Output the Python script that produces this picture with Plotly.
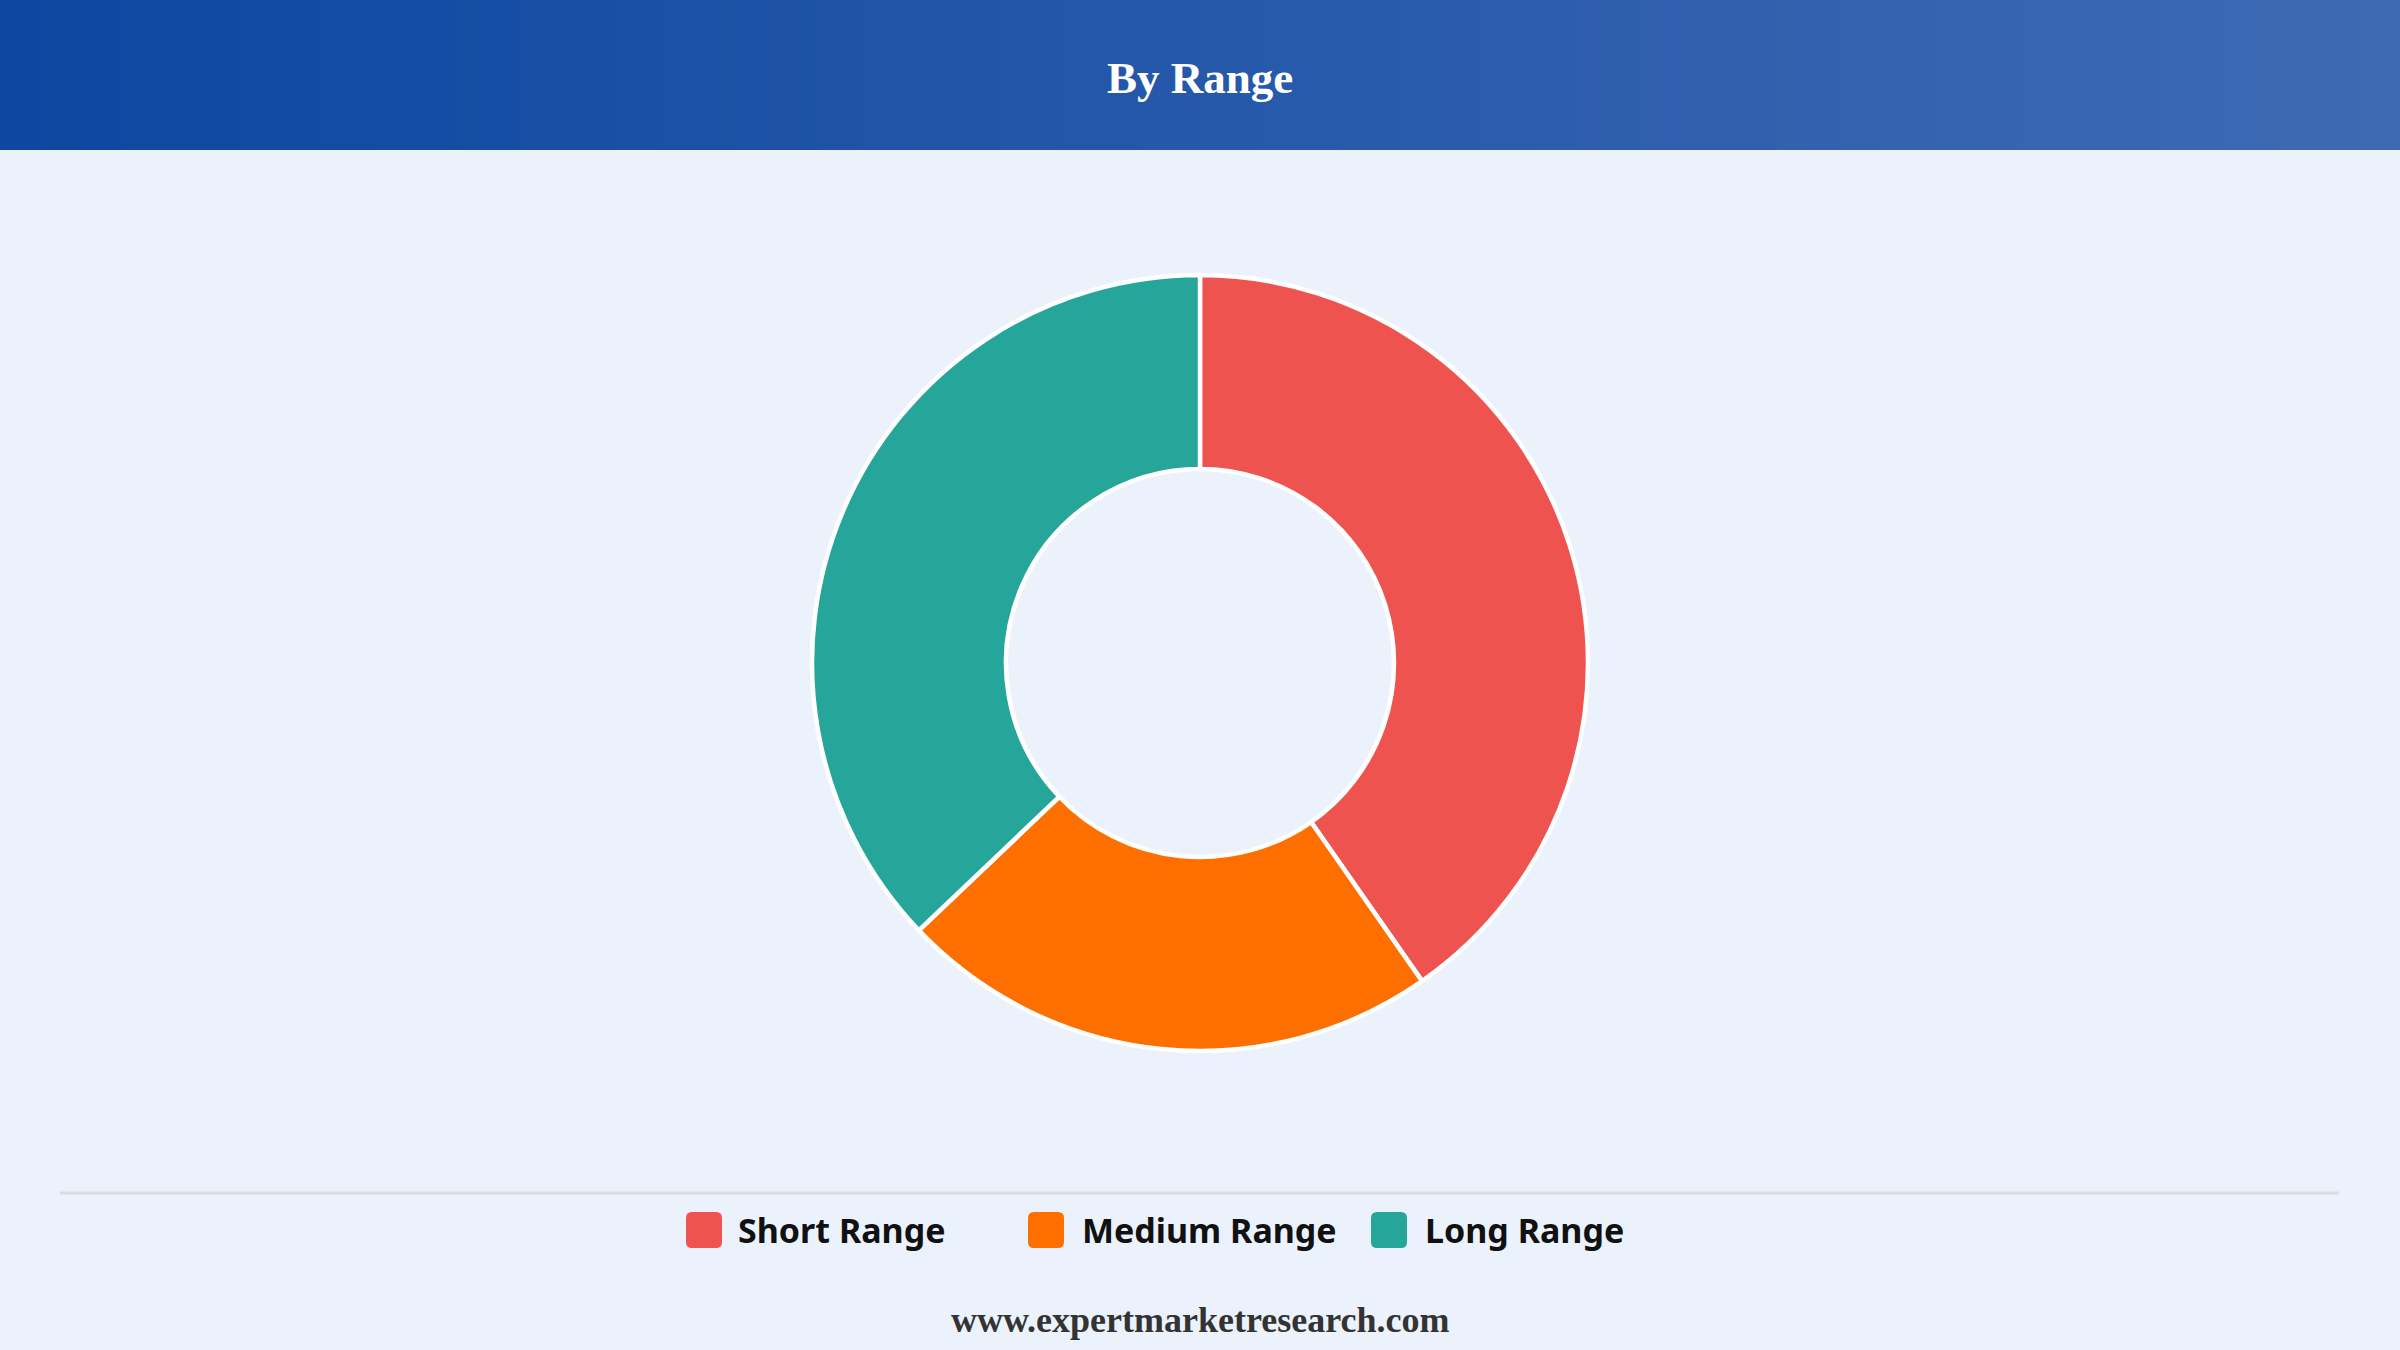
import plotly.graph_objects as go

# ---- data ----
categories = ["Short Range", "Medium Range", "Long Range"]
values = [40.3, 22.6, 37.1]
colors = ["#EF5350", "#FF6F00", "#26A69A"]
title_text = "By Range"
footer_text = "www.expertmarketresearch.com"

W, H = 2400, 1350
BG = "#EBF2FC"

fig = go.Figure()
fig.add_trace(go.Pie(
    labels=categories,
    values=values,
    hole=0.5,
    sort=False,
    direction="clockwise",
    rotation=0,
    textinfo="none",
    marker=dict(colors=colors, line=dict(color="white", width=4.5)),
    domain=dict(x=[0, 1], y=[1 - 1051 / H, 1 - 275 / H]),
    showlegend=False,
))

shapes = []
# header gradient
left = (13, 71, 161)
right = (62, 106, 179)
n = 120
for i in range(n):
    t = i / (n - 1)
    c = tuple(round(left[k] + (right[k] - left[k]) * t) for k in range(3))
    shapes.append(dict(type="rect", xref="paper", yref="paper",
                       x0=i / n, x1=(i + 1) / n + 0.001,
                       y0=1 - 150 / H, y1=1,
                       fillcolor="rgb(%d,%d,%d)" % c, line=dict(width=0), layer="below"))
# divider line
shapes.append(dict(type="line", xref="paper", yref="paper",
                   x0=60 / W, x1=2339 / W, y0=1 - 1193 / H, y1=1 - 1193 / H,
                   line=dict(color="#D8DBE0", width=3)))

annotations = [
    dict(text="<b>%s</b>" % title_text, xref="paper", yref="paper", x=0.5, y=1 - 78 / H,
         xanchor="center", yanchor="middle", showarrow=False,
         font=dict(family="Liberation Serif, Times New Roman, serif", size=45, color="white")),
    dict(text="<b>%s</b>" % footer_text, xref="paper", yref="paper", x=0.5, y=1 - 1320 / H,
         xanchor="center", yanchor="middle", showarrow=False,
         font=dict(family="Liberation Serif, Times New Roman, serif", size=36, color="#333333")),
]

# custom legend
sw_x = [686, 1028, 1371]
txt_x = [736, 1080, 1423]
sw_size = 36
sw_y0, sw_y1 = 1212, 1248
r = 6


def px(x):
    return x / W


def py(y):
    return 1 - y / H


for i, (lab, col) in enumerate(zip(categories, colors)):
    x0, x1 = sw_x[i], sw_x[i] + sw_size
    path = (f"M {px(x0 + r)} {py(sw_y0)} L {px(x1 - r)} {py(sw_y0)} "
            f"Q {px(x1)} {py(sw_y0)} {px(x1)} {py(sw_y0 + r)} "
            f"L {px(x1)} {py(sw_y1 - r)} Q {px(x1)} {py(sw_y1)} {px(x1 - r)} {py(sw_y1)} "
            f"L {px(x0 + r)} {py(sw_y1)} Q {px(x0)} {py(sw_y1)} {px(x0)} {py(sw_y1 - r)} "
            f"L {px(x0)} {py(sw_y0 + r)} Q {px(x0)} {py(sw_y0)} {px(x0 + r)} {py(sw_y0)} Z")
    shapes.append(dict(type="path", xref="paper", yref="paper", path=path,
                       fillcolor=col, line=dict(width=0)))
    annotations.append(dict(text="<b>%s</b>" % lab, xref="paper", yref="paper",
                            x=txt_x[i] / W, y=1 - 1230 / H, xanchor="left", yanchor="middle",
                            showarrow=False,
                            font=dict(family="Noto Sans, Open Sans, sans-serif", size=34, color="#111111")))

fig.update_layout(
    width=W, height=H,
    margin=dict(l=0, r=0, t=0, b=0),
    paper_bgcolor=BG, plot_bgcolor=BG,
    shapes=shapes, annotations=annotations,
    showlegend=False,
)

fig.write_html("out.html", config={"displayModeBar": False},
               post_script="document.body.style.margin='0';document.body.style.overflow='hidden';")
